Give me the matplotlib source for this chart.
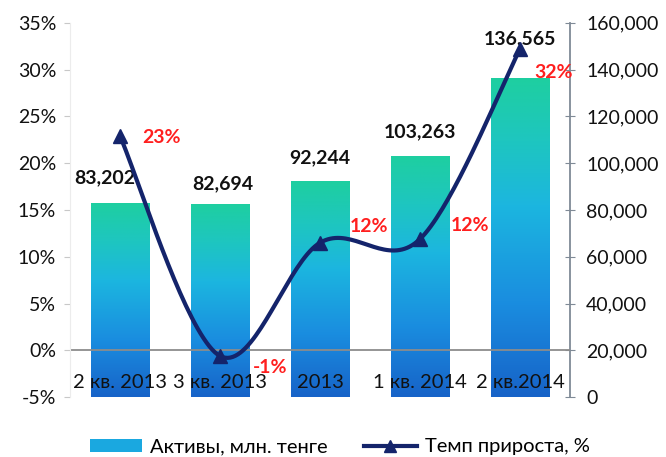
import numpy as np
import matplotlib
matplotlib.use('Agg')
import matplotlib.pyplot as plt
from matplotlib.colors import LinearSegmentedColormap
from matplotlib.lines import Line2D
from matplotlib.patches import Patch
from matplotlib.ticker import FuncFormatter, MultipleLocator

plt.rcParams['font.family'] = ['Lato', 'Open Sans', 'DejaVu Sans']

categories = ['2 кв. 2013', '3 кв. 2013', '2013', '1 кв. 2014', '2 кв.2014']
assets = [83202, 82694, 92244, 103263, 136565]
growth = [22.9, -0.6, 11.5, 11.9, 32.2]

assets_name = 'Активы, млн. тенге'
growth_name = 'Темп прироста, %'

# label offsets in points (hand-placed like in the original)
asset_offsets = [(-11, 18), (2, 14), (0, 17), (0, 17), (0, 28)]
growth_offsets = [(30, -1), (36, -8), (35, 12), (36, 10), (24, -17)]

navy = '#14246b'
red = '#ff1f1f'
grad = LinearSegmentedColormap.from_list(
    'bars', [(0, '#1763c8'), (0.3, '#1a8ee0'), (0.6, '#1cb6df'), (0.8, '#1ec6c0'), (1, '#1ecfa0')])


def smooth(xs, ys, k, n=40):
    # excel-like smoothed line: bezier through points, done in screen-ish units
    P = np.column_stack([xs, np.asarray(ys, float) * k])
    P = np.vstack([P[0], P, P[-1]])
    segs = []
    t = np.linspace(0, 1, n)[:, None]
    for i in range(1, len(P) - 2):
        p0, p1, p2, p3 = P[i - 1], P[i], P[i + 1], P[i + 2]
        c1 = p1 + (p2 - p0) / 6
        c2 = p2 - (p3 - p1) / 6
        segs.append((1 - t) ** 3 * p1 + 3 * (1 - t) ** 2 * t * c1 + 3 * (1 - t) * t ** 2 * c2 + t ** 3 * p2)
    S = np.vstack(segs)
    return S[:, 0], S[:, 1] / k


fig = plt.figure(figsize=(6.66, 4.57), dpi=100)
ax = fig.add_axes([0.105, 0.131, 0.751, 0.819])
ax2 = ax.twinx()
ax.set_zorder(ax2.get_zorder() + 1)
ax.patch.set_visible(False)

x = np.arange(len(categories))

# bars with vertical gradient
bars = ax2.bar(x, assets, width=0.58, color='none', edgecolor='none')
g = np.linspace(0, 1, 256).reshape(-1, 1)
for b in bars:
    im = ax2.imshow(g, cmap=grad, origin='lower', aspect='auto', zorder=1,
                    extent=[b.get_x(), b.get_x() + b.get_width(), 0, b.get_height()])
    im.set_clip_path(b)
for xi, v, off in zip(x, assets, asset_offsets):
    ax2.annotate(f'{v:,}', (xi, v), xytext=off, textcoords='offset points',
                 ha='center', va='center', fontsize=14, fontweight='bold', color='#111111')

ax2.set_xlim(-0.5, len(categories) - 0.5)
ax2.set_ylim(0, 160000)
ax2.yaxis.set_major_locator(MultipleLocator(20000))
ax2.yaxis.set_major_formatter(FuncFormatter(lambda v, p: f'{v:,.0f}'))

# growth line
ax.set_xlim(-0.5, len(categories) - 0.5)
ax.set_ylim(-5, 35)
ax.axhline(0, color='#8c8c8c', lw=1.3, zorder=2)
k = (fig.get_figheight() * 0.819 / 40) / (fig.get_figwidth() * 0.751 / len(categories))
sx, sy = smooth(x, growth, k)
ax.plot(sx, sy, color=navy, lw=3, zorder=3, solid_capstyle='round')
ax.plot(x, growth, ls='none', marker='^', ms=10, color=navy, zorder=4)
for xi, v, off in zip(x, growth, growth_offsets):
    ax.annotate(f'{v:.0f}%', (xi, v), xytext=off, textcoords='offset points',
                ha='center', va='center', fontsize=14, fontweight='bold', color=red, zorder=5)

ax.yaxis.set_major_locator(MultipleLocator(5))
ax.yaxis.set_major_formatter(FuncFormatter(lambda v, p: f'{v:.0f}%'))
ax.set_xticks(x, categories)
ax.tick_params(axis='x', length=0, pad=-17, labelsize=14.5, labelcolor='#111111')
ax.tick_params(axis='y', length=4, color='#c8c8c8', labelsize=14, labelcolor='#111111', pad=6)
ax2.tick_params(axis='y', direction='inout', length=7, color='#7f8a96', labelsize=14,
                labelcolor='#111111', pad=8)

for s in ['top', 'bottom']:
    ax.spines[s].set_visible(False)
    ax2.spines[s].set_visible(False)
ax.spines['right'].set_visible(False)
ax.spines['left'].set_color('#ececec')
ax2.spines['left'].set_visible(False)
ax2.spines['right'].set_color('#7f8a96')
ax2.spines['right'].set_linewidth(1.3)

handles = [Patch(facecolor='#1aa8e0', edgecolor='none'),
           Line2D([], [], color=navy, lw=3, marker='^', ms=9)]
fig.legend(handles, [assets_name, growth_name], loc='center left', bbox_to_anchor=(0.135, 0.022),
           ncol=2, frameon=False, fontsize=14.5, handlelength=2.6, handleheight=0.6,
           columnspacing=1.8, handletextpad=0.4, borderaxespad=0, borderpad=0)

fig.savefig('out.png', dpi=100)
